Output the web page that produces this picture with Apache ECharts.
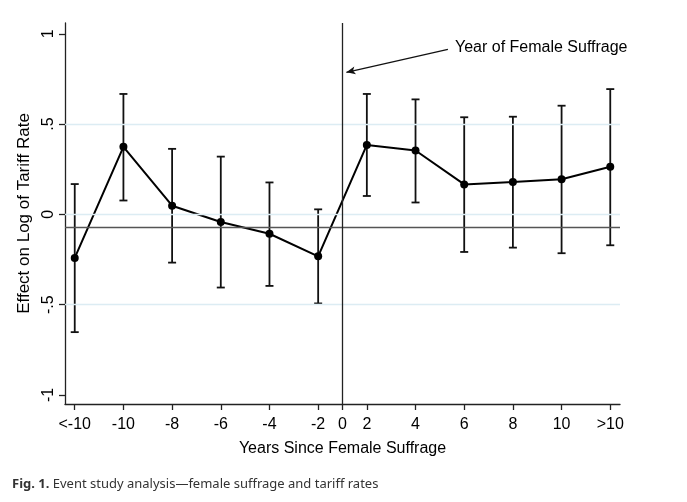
<!DOCTYPE html>
<html><head><meta charset="utf-8">
<script src="https://cdn.jsdelivr.net/npm/echarts@6/dist/echarts.min.js"></script>
<style>html,body{margin:0;padding:0;background:#fff}#c{width:687px;height:502px}</style>
</head><body><div id="c"></div>
<script>
// ---- data ----
const periods  = ['<-10','-10','-8','-6','-4','-2','2','4','6','8','10','>10'];
const effect   = [-0.241, 0.374, 0.048, -0.042, -0.107, -0.232, 0.385, 0.354, 0.166, 0.179, 0.195, 0.264];
const ciUpper  = [0.168, 0.667, 0.363, 0.320, 0.177, 0.028, 0.667, 0.637, 0.538, 0.541, 0.602, 0.694];
const ciLower  = [-0.652, 0.077, -0.267, -0.405, -0.396, -0.493, 0.102, 0.066, -0.208, -0.184, -0.215, -0.171];
const yTicks   = [-1, -0.5, 0, 0.5, 1];
const yGrid    = [-0.5, 0, 0.5];
const refLineY = -0.066;       // horizontal reference line
const eventLabel = '0';        // suffrage year, between -2 and 2

// x positions: each period is one step; year 0 sits midway between -2 and 2
const xPos = periods.map((p, i) => i);
const iM2 = periods.indexOf('-2'), iP2 = periods.indexOf('2');
const eventX = (xPos[iM2] + xPos[iP2]) / 2;
const tickVals = xPos.slice(0, iP2).concat([eventX], xPos.slice(iP2));
const tickText = periods.slice(0, iP2).concat([eventLabel], periods.slice(iP2));
const labelOf = v => { const k = tickVals.findIndex(t => Math.abs(t - v) < 1e-6); return k >= 0 ? tickText[k] : ''; };

const font = '"Liberation Sans", Arial, sans-serif';
const chart = echarts.init(document.getElementById('c'), null, {renderer: 'canvas'});

chart.setOption({
  animation: false,
  backgroundColor: '#fff',
  grid: {left: 65, right: 67, top: 23, bottom: 98, containLabel: false},
  xAxis: {
    type: 'value', min: -0.2, max: 11.2,
    name: 'Years Since Female Suffrage', nameLocation: 'middle', nameGap: 37,
    nameTextStyle: {fontFamily: font, fontSize: 16, color: '#000'},
    axisLine: {show: true, onZero: false, lineStyle: {color: '#222', width: 1.3}},
    axisTick: {show: true, length: 6, customValues: tickVals, lineStyle: {color: '#222', width: 1.3}},
    axisLabel: {customValues: tickVals, formatter: v => labelOf(v), fontFamily: font, fontSize: 16, color: '#000', margin: 13},
    splitLine: {show: false}
  },
  yAxis: {
    type: 'value', min: -1.05, max: 1.06,
    name: 'Effect on Log of Tariff Rate', nameLocation: 'middle', nameGap: 27, nameRotate: 90,
    nameTextStyle: {fontFamily: font, fontSize: 17, color: '#000'},
    axisLine: {show: true, onZero: false, lineStyle: {color: '#222', width: 1.3}},
    axisTick: {show: true, length: 6, customValues: yTicks, lineStyle: {color: '#222', width: 1.3}},
    axisLabel: {customValues: yTicks, rotate: 90, margin: 8, fontFamily: font, fontSize: 16, color: '#000',
      formatter: v => String(v).replace('0.', '.')},
    splitLine: {show: false}
  },
  series: [
    { // background grid + reference lines
      type: 'line', data: [], z: 1, silent: true,
      markLine: {
        silent: true, symbol: ['none', 'none'], label: {show: false}, animation: false,
        data: yGrid.map(g => ({yAxis: g, lineStyle: {color: '#dcecf3', width: 1.3, type: 'solid'}}))
          .concat([{yAxis: refLineY, lineStyle: {color: '#555', width: 1.3, type: 'solid'}},
                   {xAxis: eventX, lineStyle: {color: '#222', width: 1.3, type: 'solid'}}])
      }
    },
    { // confidence intervals
      type: 'custom', z: 3,
      data: xPos.map((x, i) => [x, ciLower[i], ciUpper[i]]),
      renderItem: (params, api) => {
        const x = api.value(0);
        const a = api.coord([x, api.value(2)]), b = api.coord([x, api.value(1)]);
        const w = 4, st = {stroke: '#111', lineWidth: 1.8};
        return {type: 'group', children: [
          {type: 'line', shape: {x1: a[0], y1: a[1], x2: b[0], y2: b[1]}, style: st},
          {type: 'line', shape: {x1: a[0] - w, y1: a[1], x2: a[0] + w, y2: a[1]}, style: st},
          {type: 'line', shape: {x1: b[0] - w, y1: b[1], x2: b[0] + w, y2: b[1]}, style: st}
        ]};
      }
    },
    { // point estimates
      type: 'line', z: 4,
      data: xPos.map((x, i) => [x, effect[i]]),
      symbol: 'circle', symbolSize: 8,
      itemStyle: {color: '#000'}, lineStyle: {color: '#000', width: 2},
      markLine: {
        silent: true, animation: false, symbol: ['none', 'arrow'], symbolSize: [6, 9],
        label: {show: false},
        lineStyle: {color: '#111', width: 1.3, type: 'solid'},
        data: [[{coord: [7.665, 0.914]}, {coord: [5.58, 0.787]}]]
      },
      markPoint: {
        silent: true, animation: false, symbol: 'circle', symbolSize: 0,
        label: {show: true, position: 'right', distance: 0, formatter: 'Year of Female Suffrage',
          fontFamily: font, fontSize: 16, color: '#000'},
        data: [{coord: [7.81, 0.923]}]
      }
    }
  ],
  graphic: [{
    type: 'text', left: 12, top: 478,
    style: {
      text: '{b|Fig. 1.} Event study analysis\u2014female suffrage and tariff rates',
      font: '13px "Noto Sans", sans-serif', fill: '#333',
      rich: {b: {fontWeight: 'bold', fontFamily: '"Noto Sans", sans-serif', fontSize: 13, fill: '#333'}}
    }
  }]
});
</script></body></html>
